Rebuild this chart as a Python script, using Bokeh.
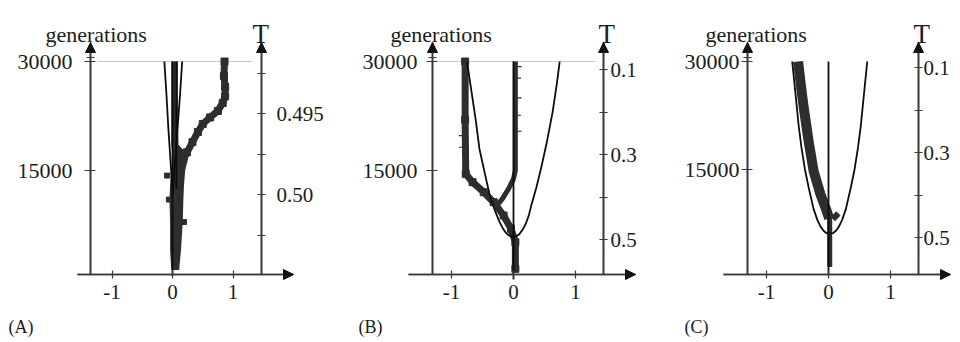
from bokeh.plotting import figure
from bokeh.models import Range1d, LinearAxis, FixedTicker, Arrow, NormalHead, Label
from bokeh.layouts import row
from bokeh.embed import file_html
from bokeh.resources import INLINE

# ---------------- data ----------------
gen_ticks = [15000, 30000]
gen_minor = [30550]
gen_top = 30000
x_ticks = [-1, 0, 1]
x_labels = ["-1", "0", "1"]
a_T_ticks = [0.495, 0.50]
a_T_minor = [0.4925, 0.4975, 0.5025]
a_T_labels = ["0.495", "0.50"]
bc_T_ticks = [0.1, 0.3, 0.5]
bc_T_minor = [0.2, 0.4]
panel_tags = ["(A)", "(B)", "(C)"]
y_title = "generations"
t_title = "T"

# Panel A: theoretical curves (black)
a_th_left_gen = [11560, 16000, 21000, 25500, 30000]
a_th_left_x = [0.0, -0.03, -0.07, -0.10, -0.135]
a_th_right_gen = [11560, 16000, 21000, 25500, 30000]
a_th_right_x = [0.0, 0.04, 0.085, 0.125, 0.16]
a_th_mid_gen = [500, 30000]
a_th_mid_x = [0.0, 0.0]
a_th_mid2_gen = [12500, 30000]
a_th_mid2_x = [0.065, 0.065]
# Panel A: simulated population (grey)
a_col_gen = [1300, 4000, 8000, 11000, 13000, 15000, 16500, 17500, 18500, 22000, 26000, 30000]
a_col_left = [-0.02, -0.04, -0.04, -0.05, -0.04, -0.02, 0.0, 0.0, -0.02, -0.02, -0.02, -0.02]
a_col_right = [0.11, 0.14, 0.17, 0.18, 0.19, 0.21, 0.25, 0.22, 0.10, 0.09, 0.09, 0.09]
a_br_gen = [14500, 16500, 17500, 18900, 20300, 21400, 22300, 23200, 24300, 25200, 26500, 28000, 30000]
a_br_x = [0.12, 0.18, 0.24, 0.33, 0.42, 0.50, 0.62, 0.75, 0.83, 0.87, 0.87, 0.85, 0.86]
a_stray_gen = [14300, 11000, 7900]
a_stray_x = [-0.09, -0.06, 0.19]

# Panel B
b_th_left_gen = [30000, 26000, 22000, 18000, 14500, 11500, 9500, 8000, 7000, 6400, 6050, 5900, 5850]
b_th_left_x = [-0.75, -0.68, -0.61, -0.55, -0.46, -0.38, -0.30, -0.23, -0.17, -0.12, -0.07, -0.03, 0.0]
b_th_right_gen = [5850, 5950, 6300, 6900, 7700, 8900, 10300, 12700, 15500, 19000, 23000, 27000, 30000]
b_th_right_x = [0.0, 0.05, 0.10, 0.15, 0.20, 0.25, 0.29, 0.37, 0.45, 0.54, 0.63, 0.70, 0.745]
b_th_mid_gen = [0, 30000]
b_th_mid_x = [0.0, 0.0]
b_main_gen = [30000, 22000, 14540, 13390, 12010, 10640, 8810, 6980, 5130, 1470]
b_main_x = [-0.78, -0.78, -0.77, -0.66, -0.48, -0.32, -0.16, -0.04, 0.03, 0.03]
b_arm_gen = [30000, 20000, 15000, 13860, 12480, 11100, 9950]
b_arm_x = [0.03, 0.03, 0.03, 0.0, -0.08, -0.18, -0.29]
b_stray_gen = [29300, 27700, 25000, 22600, 20400, 19800, 18200]
b_stray_x = [0.09, 0.08, 0.09, 0.08, 0.09, -0.84, -0.84]

# Panel C
c_th_left_gen = [30000, 27000, 24000, 21000, 18000, 15000, 12500, 9500, 8000, 7100, 6500, 6150, 6050]
c_th_left_x = [-0.585, -0.55, -0.515, -0.48, -0.435, -0.38, -0.32, -0.24, -0.18, -0.13, -0.08, -0.03, 0.02]
c_th_right_gen = [6050, 6150, 6500, 7100, 8000, 9500, 12500, 15000, 18000, 21000, 24000, 27000, 30000]
c_th_right_x = [0.02, 0.07, 0.12, 0.17, 0.22, 0.28, 0.36, 0.42, 0.475, 0.52, 0.555, 0.59, 0.625]
c_th_mid_gen = [400, 30000]
c_th_mid_x = [0.0, 0.0]
c_main_gen = [30000, 27000, 23940, 18890, 14770, 11560, 9260, 8200]
c_main_x = [-0.49, -0.45, -0.405, -0.32, -0.24, -0.13, -0.03, 0.01]
c_low_gen = [9300, 7890, 5000, 1470]
c_low_x = [0.01, 0.02, 0.02, 0.02]
c_bump_gen = [8100, 8900]
c_bump_x = [0.07, 0.16]

# ---------------- styling / layout (page pixels) ----------------
SERIF = "Liberation Serif"
INK = "#1c1c1c"
AXIS = "#3a3a3a"
TRACE = "#2e2e2e"
CURVE = "#0d0d0d"
H = 340
AX_BOTTOM, AX_TIP = 274, 42


def make_panel(cfg):
    cl, W = cfg["canvas_left"], cfg["width"]

    def px2x(px):
        return (px - cfg["x0px"]) / cfg["xscale"]

    gpp = 15000.0 / (cfg["g15px"] - cfg["g30px"])
    g0px = 2 * cfg["g15px"] - cfg["g30px"]

    def py2y(py):
        return (g0px - py) * gpp

    (p1, t1), (p2, t2) = cfg["T_anchor"]

    def py2t(py):
        return t1 + (py - p1) * (t2 - t1) / (p2 - p1)

    p = figure(width=W, height=H,
               x_range=Range1d(px2x(cl), px2x(cl + W)), y_range=Range1d(py2y(H), py2y(0)),
               x_axis_type=None, y_axis_type=None,
               toolbar_location=None, output_backend="svg",
               min_border_left=0, min_border_right=0, min_border_top=0, min_border_bottom=0,
               outline_line_color=None,
               background_fill_color="white", border_fill_color="white")
    p.extra_y_ranges = {"T": Range1d(py2t(H), py2t(0))}

    common = dict(axis_line_color=AXIS, axis_line_width=1.6,
                  major_tick_line_color=AXIS, minor_tick_line_color=AXIS,
                  major_tick_line_width=1.2, minor_tick_line_width=1.2,
                  major_label_text_font=SERIF, major_label_text_color=INK,
                  major_label_text_font_size="21px")

    xl, xr = px2x(cfg["left_px"]), px2x(cfg["right_px"])
    yb, ytip = py2y(AX_BOTTOM), py2y(AX_TIP)

    left = LinearAxis(ticker=FixedTicker(ticks=gen_ticks, minor_ticks=gen_minor),
                      fixed_location=xl, bounds=(yb, ytip),
                      major_tick_in=5, major_tick_out=6, minor_tick_in=4, minor_tick_out=4,
                      major_label_standoff=cfg["left_standoff"], **common)
    left.major_label_text_font_size = "22px"
    p.add_layout(left, "left")

    right = LinearAxis(y_range_name="T", fixed_location=xr,
                       bounds=(py2t(AX_BOTTOM), py2t(AX_TIP)),
                       ticker=FixedTicker(ticks=cfg["T_ticks"], minor_ticks=cfg["T_minor"]),
                       major_tick_in=4, major_tick_out=4, minor_tick_in=4, minor_tick_out=4,
                       major_label_standoff=cfg["right_standoff"],
                       major_label_overrides=cfg.get("T_overrides", {}), **common)
    p.add_layout(right, "right")

    bottom = LinearAxis(ticker=FixedTicker(ticks=x_ticks, minor_ticks=[]),
                        fixed_location=yb, bounds=(px2x(cfg["xaxis_from"]), px2x(cfg["xaxis_tip"])),
                        major_tick_in=4, major_tick_out=4, minor_tick_in=0, minor_tick_out=0,
                        major_label_standoff=6,
                        major_label_overrides=dict(zip(x_ticks, x_labels)), **common)
    p.add_layout(bottom, "below")

    # arrow heads on the three axes
    def arrow(x0, y0, x1, y1):
        p.add_layout(Arrow(end=NormalHead(size=10, fill_color="#111111", line_color="#111111"),
                           x_start=x0, y_start=y0, x_end=x1, y_end=y1,
                           line_color=AXIS, line_width=1.6))
    arrow(px2x(cfg["xaxis_from"]), yb, px2x(cfg["xaxis_tip"]), yb)
    arrow(xl, yb, xl, ytip)
    arrow(xr, yb, xr, ytip)

    # light reference line at the last generation
    if cfg["top_line"]:
        p.segment(x0=[px2x(cfg["top_line"][0])], x1=[px2x(cfg["top_line"][1])],
                  y0=[gen_top], y1=[gen_top], line_color="#c8c8c8", line_width=1.2)

    # texts
    p.add_layout(Label(x=px2x(cfg["gen_lbl"]), y=py2y(34), text=y_title, text_font=SERIF,
                       text_font_size="22px", text_color=INK, text_baseline="alphabetic"))
    p.add_layout(Label(x=px2x(cfg["T_lbl"]), y=py2y(33), text=t_title, text_font=SERIF,
                       text_font_size="27px", text_color=INK, text_baseline="alphabetic"))
    p.add_layout(Label(x=px2x(cfg["tag_lbl"]), y=py2y(326), text=cfg["tag"], text_font=SERIF,
                       text_font_size="18px", text_color=INK, text_baseline="alphabetic"))
    return p


cfgA = dict(canvas_left=0, width=328, x0px=172, xscale=60.5, g30px=61, g15px=170,
            T_anchor=((113, 0.495), (194, 0.50)),
            T_ticks=a_T_ticks, T_minor=a_T_minor,
            T_overrides=dict(zip(a_T_ticks, a_T_labels)),
            left_px=90, right_px=261,
            left_standoff=12, right_standoff=11,
            xaxis_from=77, xaxis_tip=293, top_line=(97, 252),
            gen_lbl=45, T_lbl=252, tag_lbl=8, tag=panel_tags[0])
cfgB = dict(canvas_left=328, width=312, x0px=513, xscale=62, g30px=61, g15px=170,
            T_anchor=((69, 0.1), (239, 0.5)),
            T_ticks=bc_T_ticks, T_minor=bc_T_minor,
            left_px=432, right_px=603,
            left_standoff=9, right_standoff=3,
            xaxis_from=408, xaxis_tip=635, top_line=(438, 595),
            gen_lbl=390, T_lbl=598, tag_lbl=358, tag=panel_tags[1])
cfgC = dict(canvas_left=640, width=318, x0px=828, xscale=62, g30px=61, g15px=169,
            T_anchor=((67, 0.1), (237, 0.5)),
            T_ticks=bc_T_ticks, T_minor=bc_T_minor,
            left_px=747, right_px=918,
            left_standoff=2, right_standoff=1,
            xaxis_from=723, xaxis_tip=950, top_line=None,
            gen_lbl=705, T_lbl=913, tag_lbl=684, tag=panel_tags[2])

pA = make_panel(cfgA)
pB = make_panel(cfgB)
pC = make_panel(cfgC)

# ----- Panel A marks -----
pA.harea(y=a_col_gen, x1=a_col_left, x2=a_col_right, fill_color=TRACE)
pA.line(a_br_x, a_br_gen, line_width=7, line_color=TRACE, line_join="round")
pA.scatter(a_br_x, a_br_gen, marker="square", size=7, color=TRACE)
pA.scatter(a_stray_x, a_stray_gen, marker="square", size=5, color=TRACE)
for gx, xx in [(a_th_left_gen, a_th_left_x), (a_th_right_gen, a_th_right_x),
               (a_th_mid_gen, a_th_mid_x), (a_th_mid2_gen, a_th_mid2_x)]:
    pA.line(xx, gx, line_width=1.8, line_color=CURVE)

# ----- Panel B marks -----
pB.line(b_main_x, b_main_gen, line_width=7, line_color=TRACE, line_join="round")
pB.scatter(b_main_x, b_main_gen, marker="square", size=7, color=TRACE)
pB.line(b_arm_x, b_arm_gen, line_width=5, line_color=TRACE, line_join="round")
pB.scatter(b_stray_x, b_stray_gen, marker="dash", size=5, line_width=1.2, color=TRACE)
pB.line(b_th_left_x, b_th_left_gen, line_width=1.8, line_color=CURVE)
pB.line(b_th_right_x, b_th_right_gen, line_width=1.8, line_color=CURVE)
pB.line(b_th_mid_x, b_th_mid_gen, line_width=1.8, line_color=CURVE)

# ----- Panel C marks -----
pC.line(c_main_x, c_main_gen, line_width=10, line_color=TRACE, line_join="round")
pC.line(c_low_x, c_low_gen, line_width=5, line_color=TRACE)
pC.line(c_bump_x, c_bump_gen, line_width=6, line_color=TRACE)
pC.line(c_th_left_x, c_th_left_gen, line_width=1.8, line_color=CURVE)
pC.line(c_th_right_x, c_th_right_gen, line_width=1.8, line_color=CURVE)
pC.line(c_th_mid_x, c_th_mid_gen, line_width=1.8, line_color=CURVE)

layout = row(pA, pB, pC)
open("out.html", "w").write(file_html(layout, INLINE))
